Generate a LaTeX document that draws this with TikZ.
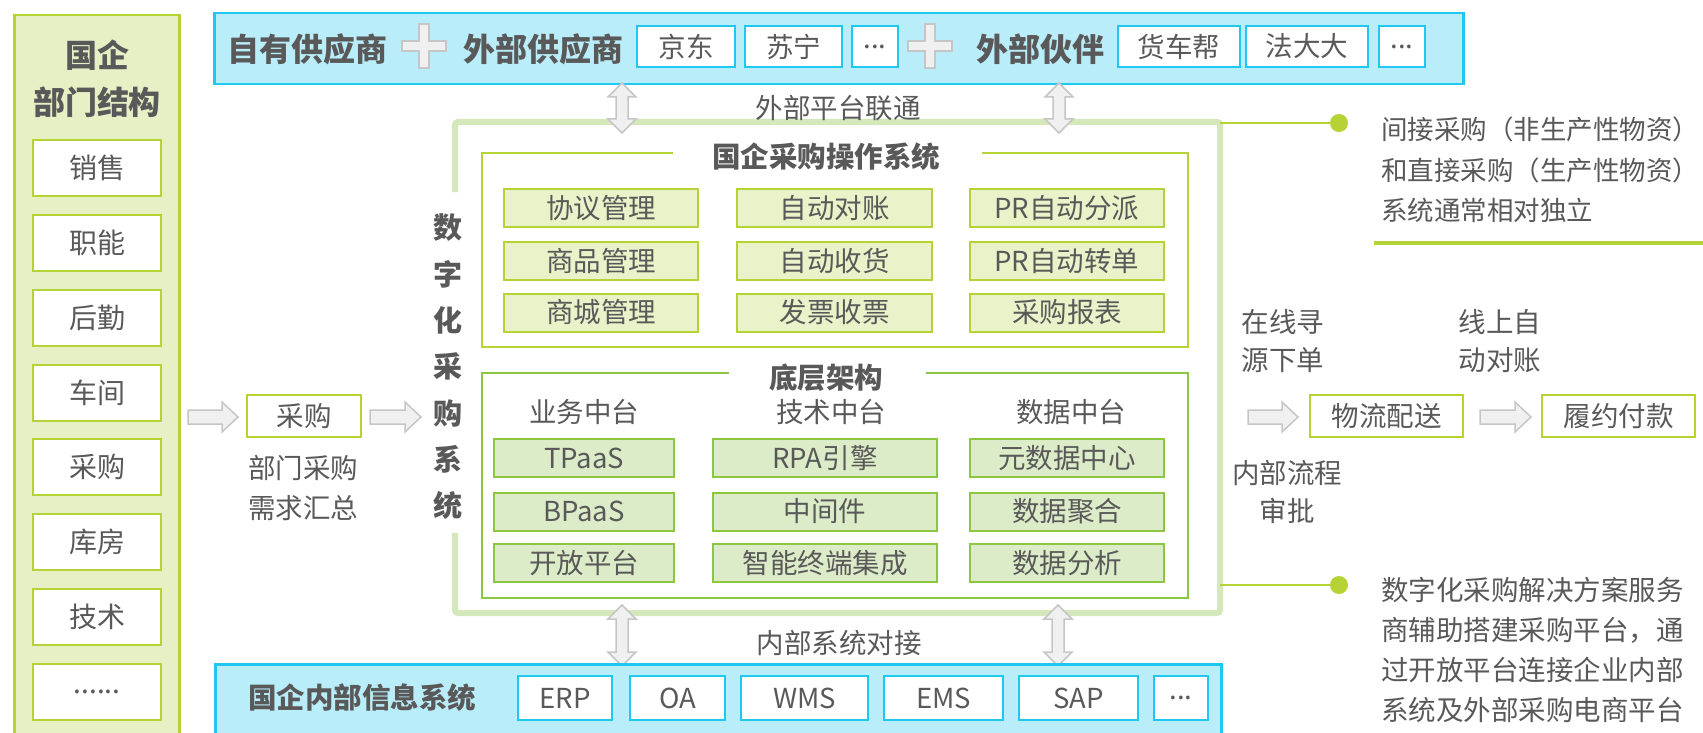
\documentclass[tikz,border=0pt]{standalone}
\usepackage{fontspec}
\setmainfont{Noto Sans CJK SC}
\definecolor{txt}{HTML}{595959}
\definecolor{cyanb}{HTML}{1FC8F0}
\definecolor{cyanf}{HTML}{B9EDF9}
\definecolor{ygb}{HTML}{B5D334}
\definecolor{ygf}{HTML}{E6F0C4}
\definecolor{ugf}{HTML}{E9F2C8}
\definecolor{gb}{HTML}{8DC63F}
\definecolor{gf}{HTML}{DDECC8}
\definecolor{outerg}{HTML}{D5E8BC}
\definecolor{arrf}{HTML}{F0F0F0}
\definecolor{arrd}{HTML}{C6C6C6}
\newcommand\blkR[3]{\draw[arr] (#1,#3-7) -- (#2-16,#3-7) -- (#2-16,#3-15) -- (#2,#3) -- (#2-16,#3+15) -- (#2-16,#3+7) -- (#1,#3+7) -- cycle;}
\newcommand\blkUD[3]{\draw[arr] (#1,#2) -- (#1+14,#2+14) -- (#1+6,#2+14) -- (#1+6,#3-14) -- (#1+14,#3-14) -- (#1,#3) -- (#1-14,#3-14) -- (#1-6,#3-14) -- (#1-6,#2+14) -- (#1-14,#2+14) -- cycle;}
\newcommand\blkPlus[2]{\draw[arr] (#1-5,#2-22) -- (#1+5,#2-22) -- (#1+5,#2-5) -- (#1+22,#2-5) -- (#1+22,#2+5) -- (#1+5,#2+5) -- (#1+5,#2+22) -- (#1-5,#2+22) -- (#1-5,#2+5) -- (#1-22,#2+5) -- (#1-22,#2-5) -- (#1-5,#2-5) -- cycle;}
\begin{document}
\begin{tikzpicture}[x=1pt,y=-1pt,
  every node/.style={inner sep=0pt, text=txt, font=\fontsize{27.5}{33}\selectfont},
  bt/.style={font=\fontsize{32}{38}\selectfont\bfseries},
  mt/.style={font=\fontsize{28.5}{34}\selectfont\bfseries},
  cbox/.style={draw=cyanb, fill=white, line width=2.5pt, minimum height=41},
  lbox/.style={draw=ygb, fill=white, line width=2.5pt, minimum width=128, minimum height=56, font=\fontsize{28}{34}\selectfont},
  ubox/.style={draw=ygb, fill=ugf, line width=2pt, minimum height=38},
  dbox/.style={draw=gb, fill=gf, line width=2pt, minimum height=38},
  fbox/.style={draw=ygb, fill=white, line width=2.5pt, minimum height=42},
  arr/.style={fill=arrf, draw=arrd, line width=1.5pt},
  ann/.style={align=left, anchor=west, font=\fontsize{26.5}{40.5}\selectfont}
]
\useasboundingbox (0,0) rectangle (1703,733);
\fill[white] (0,0) rectangle (1703,733);

% left panel
\node[draw=ygb, fill=ygf, line width=2.5pt, anchor=north west, minimum width=165, minimum height=740] (leftpanel) at (13,14) {};
\node[bt] (lt1) at (97,55) {国企};
\node[bt] (lt2) at (97,102) {部门结构};
\node[lbox] (d1) at (97,168) {销售};
\node[lbox] (d2) at (97,243) {职能};
\node[lbox] (d3) at (97,318) {后勤};
\node[lbox] (d4) at (97,393) {车间};
\node[lbox] (d5) at (97,467) {采购};
\node[lbox] (d6) at (97,542) {库房};
\node[lbox] (d7) at (97,617) {技术};
\node[lbox] (d8) at (97,692) {......};

% top box
\node[draw=cyanb, fill=cyanf, line width=2.5pt, anchor=north west, minimum width=1249, minimum height=71] (topbox) at (213,12) {};
\node[bt] (own) at (307,49) {自有供应商};
\blkPlus{424}{46}
\node[bt] (ext) at (543,49) {外部供应商};
\node[cbox, minimum width=98] (jd) at (686,46.5) {京东};
\node[cbox, minimum width=97] (sn) at (793.5,46.5) {苏宁};
\node[cbox, minimum width=46] (e1) at (875,46.5) {...};
\blkPlus{930}{46}
\node[bt] (partner) at (1040,49) {外部伙伴};
\node[cbox, minimum width=122] (hcb) at (1179,46.5) {货车帮};
\node[cbox, minimum width=122] (fdd) at (1307,46.5) {法大大};
\node[cbox, minimum width=46] (e2) at (1402,46.5) {...};

% frames
\draw[outerg, line width=6pt, rounded corners=3pt] (455,192) -- (455,122) -- (1220,122) -- (1220,613) -- (455,613) -- (455,533);
\draw[ygb, line width=2pt] (673,153) -- (482,153) -- (482,347) -- (1188,347) -- (1188,153) -- (982,153);
\draw[gb, line width=2pt] (729,373) -- (482,373) -- (482,598) -- (1188,598) -- (1188,373) -- (926,373);
\node[mt] (optitle) at (826,157) {国企采购操作系统};
\node[mt] (basetitle) at (826,378) {底层架构};
\node[font=\fontsize{29}{46.3}\selectfont\bfseries, align=center] (vt) at (448,367) {数\\字\\化\\采\\购\\系\\统};

% upper boxes
\node[ubox, minimum width=194] (u11) at (601,208) {协议管理};
\node[ubox, minimum width=195] (u12) at (834.5,208) {自动对账};
\node[ubox, minimum width=194] (u13) at (1067,208) {PR自动分派};
\node[ubox, minimum width=194] (u21) at (601,261) {商品管理};
\node[ubox, minimum width=195] (u22) at (834.5,261) {自动收货};
\node[ubox, minimum width=194] (u23) at (1067,261) {PR自动转单};
\node[ubox, minimum width=194] (u31) at (601,312.5) {商城管理};
\node[ubox, minimum width=195] (u32) at (834.5,312.5) {发票收票};
\node[ubox, minimum width=194] (u33) at (1067,312.5) {采购报表};

% lower
\node (h1) at (584,412) {业务中台};
\node (h2) at (831,412) {技术中台};
\node (h3) at (1071,412) {数据中台};
\node[dbox, minimum width=180] (l11) at (584,458) {TPaaS};
\node[dbox, minimum width=224] (l12) at (825,458) {RPA引擎};
\node[dbox, minimum width=194] (l13) at (1067,458) {元数据中心};
\node[dbox, minimum width=180] (l21) at (584,511.5) {BPaaS};
\node[dbox, minimum width=224] (l22) at (825,511.5) {中间件};
\node[dbox, minimum width=194] (l23) at (1067,511.5) {数据聚合};
\node[dbox, minimum width=180] (l31) at (584,563) {开放平台};
\node[dbox, minimum width=224] (l32) at (825,563) {智能终端集成};
\node[dbox, minimum width=194] (l33) at (1067,563) {数据分析};

% double arrows
\blkUD{622}{83}{133}
\blkUD{1059}{83}{133}
\node (extlink) at (838,108) {外部平台联通};
\blkUD{622}{605}{666}
\blkUD{1058}{605}{666}
\node (intlink) at (839,643) {内部系统对接};

% bottom box
\node[draw=cyanb, fill=cyanf, line width=2.5pt, anchor=north west, minimum width=1006, minimum height=90] (botbox) at (214,663) {};
\node[mt] (internal) at (362,698) {国企内部信息系统};
\node[cbox, minimum height=44, minimum width=94] (erp) at (565,698) {ERP};
\node[cbox, minimum height=44, minimum width=95] (oa) at (677.5,698) {OA};
\node[cbox, minimum height=44, minimum width=127] (wms) at (804.5,698) {WMS};
\node[cbox, minimum height=44, minimum width=119] (ems) at (943.5,698) {EMS};
\node[cbox, minimum height=44, minimum width=119] (sap) at (1078.5,698) {SAP};
\node[cbox, minimum height=44, minimum width=54] (e3) at (1181,698) {...};

% left flow
\blkR{188}{238}{417}
\node[fbox, minimum width=114] (cg) at (304,416) {采购};
\node (cg1) at (303,468) {部门采购};
\node (cg2) at (303,508) {需求汇总};
\blkR{370}{421}{417}

% right flow
\node (r1a) at (1283,322) {在线寻};
\node (r1b) at (1283,360) {源下单};
\node (r2a) at (1500,322) {线上自};
\node (r2b) at (1500,360) {动对账};
\blkR{1248}{1298}{417}
\node[fbox, minimum width=153] (wl) at (1386.5,416) {物流配送};
\blkR{1480}{1531}{417}
\node[fbox, minimum width=153] (ly) at (1618.5,416) {履约付款};
\node (r3a) at (1287,473) {内部流程};
\node (r3b) at (1287,511) {审批};

% annotations
\coordinate (dot1) at (1339,123);
\coordinate (dot2) at (1339,585);
\draw[ygb, line width=2.5pt] (1220,123) -- (dot1);
\fill[ygb] (dot1) circle (9);
\draw[ygb, line width=2.5pt] (1220,585) -- (dot2);
\fill[ygb] (dot2) circle (9);
\node[ann] (a1) at (1381,170) {间接采购（非生产性物资）\\和直接采购（生产性物资）\\系统通常相对独立};
\draw[ygb, line width=4pt] (1374,243) -- (1703,243);
\node[ann, font=\fontsize{27.5}{40}\selectfont] (a2) at (1381,650) {数字化采购解决方案服务\\商辅助搭建采购平台，通\\过开放平台连接企业内部\\系统及外部采购电商平台};
\end{tikzpicture}
\end{document}
